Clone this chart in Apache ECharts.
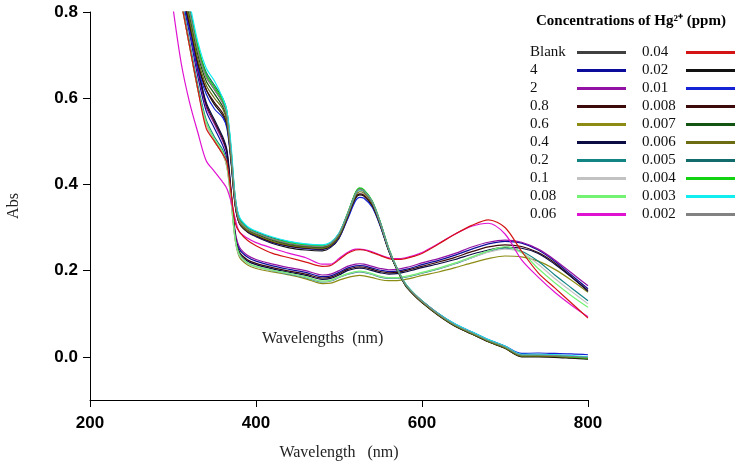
<!DOCTYPE html>
<html>
<head>
<meta charset="utf-8">
<script src="https://cdn.jsdelivr.net/npm/echarts@6/dist/echarts.min.js"></script>
<style>
  html, body { margin: 0; padding: 0; background: #fff; }
  #chart { width: 743px; height: 467px; }
</style>
</head>
<body>
<div id="chart"></div>
<script>
// wavelength grid (nm)
const wavelengths = [300,310,320,330,340,350,360,365,370,375,380,390,400,420,440,460,480,490,500,510,520,525,530,540,550,560,570,580,590,600,620,640,660,680,700,720,740,760,780,800];

const yTicks = [0, 0.2, 0.4, 0.6, 0.8];

const col1Names = ['Blank', '4', '2', '0.8', '0.6', '0.4', '0.2', '0.1', '0.08', '0.06'];
const col2Names = ['0.04', '0.02', '0.01', '0.008', '0.007', '0.006', '0.005', '0.004', '0.003', '0.002'];

const col1Colors = ['#404040', '#0b0b9c', '#9212a4', '#3c0a0a', '#8c8c14', '#0c0c44', '#128484', '#c2c2c2', '#74f274', '#e012d2'];
const col2Colors = ['#d41414', '#121212', '#1424d4', '#3c0a0a', '#125412', '#6c6c12', '#126c6c', '#12d212', '#12eef0', '#828282'];

// absorbance per concentration (ppm)
const absBlank = [0.94,0.87,0.79,0.71,0.65,0.62,0.59,0.56,0.47,0.36,0.315,0.295,0.286,0.272,0.262,0.257,0.255,0.262,0.284,0.33,0.38,0.39,0.386,0.36,0.31,0.25,0.204,0.168,0.146,0.128,0.098,0.073,0.055,0.037,0.022,0.003,0.003,0.002,0.0,-0.002];
const abs4 = [0.91,0.84,0.75,0.65,0.57,0.53,0.49,0.46,0.375,0.285,0.25,0.231,0.222,0.211,0.203,0.196,0.186,0.188,0.196,0.206,0.211,0.212,0.211,0.206,0.201,0.198,0.199,0.203,0.208,0.214,0.224,0.236,0.25,0.262,0.268,0.264,0.248,0.222,0.19,0.158];
const abs2 = [0.92,0.85,0.76,0.66,0.58,0.54,0.50,0.47,0.38,0.29,0.255,0.235,0.226,0.215,0.207,0.2,0.19,0.192,0.2,0.21,0.215,0.216,0.215,0.21,0.205,0.202,0.203,0.207,0.212,0.218,0.228,0.24,0.255,0.266,0.271,0.266,0.25,0.225,0.195,0.165];
const abs08 = [0.93,0.86,0.77,0.67,0.585,0.545,0.505,0.475,0.38,0.28,0.243,0.225,0.217,0.207,0.199,0.192,0.183,0.185,0.193,0.203,0.208,0.209,0.208,0.203,0.198,0.195,0.196,0.2,0.205,0.21,0.22,0.231,0.244,0.255,0.26,0.256,0.242,0.218,0.186,0.154];
const abs06 = [0.9,0.82,0.72,0.62,0.54,0.5,0.47,0.44,0.36,0.27,0.232,0.213,0.205,0.197,0.19,0.181,0.17,0.171,0.178,0.184,0.188,0.189,0.188,0.184,0.179,0.177,0.177,0.18,0.184,0.189,0.197,0.207,0.218,0.228,0.234,0.232,0.222,0.203,0.178,0.15];
const abs04 = [0.93,0.86,0.77,0.67,0.59,0.55,0.51,0.48,0.385,0.28,0.24,0.222,0.214,0.204,0.196,0.189,0.18,0.182,0.19,0.2,0.205,0.206,0.205,0.2,0.195,0.192,0.193,0.197,0.202,0.207,0.216,0.226,0.238,0.248,0.254,0.252,0.24,0.215,0.185,0.152];
const abs02 = [0.91,0.83,0.73,0.63,0.55,0.51,0.48,0.45,0.37,0.275,0.236,0.217,0.209,0.2,0.192,0.184,0.174,0.176,0.184,0.191,0.196,0.197,0.196,0.191,0.185,0.182,0.182,0.185,0.189,0.194,0.204,0.216,0.23,0.244,0.252,0.245,0.222,0.19,0.16,0.13];
const abs01 = [0.9,0.82,0.72,0.62,0.54,0.5,0.47,0.44,0.36,0.27,0.235,0.216,0.208,0.2,0.193,0.185,0.175,0.177,0.185,0.192,0.197,0.198,0.197,0.192,0.186,0.183,0.183,0.186,0.19,0.195,0.205,0.217,0.23,0.243,0.25,0.242,0.215,0.182,0.152,0.123];
const abs008 = [0.9,0.82,0.72,0.62,0.545,0.505,0.475,0.445,0.365,0.275,0.238,0.218,0.21,0.201,0.194,0.186,0.176,0.178,0.186,0.193,0.198,0.199,0.198,0.193,0.187,0.184,0.184,0.187,0.191,0.196,0.206,0.218,0.232,0.246,0.255,0.242,0.205,0.172,0.142,0.115];
const abs006 = [0.81,0.68,0.59,0.52,0.455,0.43,0.405,0.39,0.36,0.32,0.29,0.275,0.265,0.252,0.24,0.23,0.215,0.215,0.228,0.242,0.25,0.25,0.249,0.244,0.236,0.23,0.228,0.23,0.235,0.242,0.263,0.285,0.303,0.31,0.285,0.225,0.185,0.15,0.12,0.093];
const abs004 = [0.9,0.82,0.72,0.62,0.53,0.5,0.47,0.45,0.38,0.31,0.29,0.27,0.258,0.24,0.23,0.22,0.21,0.212,0.225,0.24,0.248,0.249,0.248,0.242,0.235,0.228,0.226,0.228,0.233,0.24,0.262,0.285,0.305,0.318,0.30,0.245,0.195,0.16,0.125,0.09];
const abs002 = [0.92,0.85,0.77,0.68,0.62,0.585,0.56,0.535,0.455,0.352,0.31,0.289,0.279,0.263,0.253,0.248,0.246,0.254,0.275,0.32,0.368,0.376,0.373,0.35,0.303,0.246,0.202,0.166,0.144,0.126,0.096,0.071,0.053,0.035,0.02,0.0,0.0,-0.001,-0.003,-0.005];
const abs001 = [0.91,0.84,0.76,0.67,0.61,0.575,0.555,0.53,0.45,0.35,0.31,0.29,0.28,0.265,0.256,0.251,0.249,0.256,0.276,0.318,0.362,0.37,0.368,0.347,0.302,0.245,0.203,0.168,0.147,0.13,0.1,0.076,0.058,0.04,0.025,0.008,0.009,0.008,0.007,0.005];
const abs0008 = [0.92,0.85,0.77,0.68,0.62,0.59,0.565,0.54,0.455,0.35,0.31,0.29,0.281,0.266,0.257,0.252,0.25,0.257,0.278,0.322,0.37,0.378,0.375,0.352,0.304,0.246,0.202,0.166,0.144,0.126,0.096,0.071,0.053,0.035,0.02,0.001,0.001,0.0,-0.002,-0.004];
const abs0007 = [0.94,0.87,0.79,0.70,0.64,0.61,0.58,0.55,0.46,0.36,0.315,0.295,0.285,0.27,0.26,0.255,0.253,0.26,0.282,0.328,0.378,0.388,0.384,0.358,0.308,0.248,0.203,0.167,0.145,0.127,0.097,0.072,0.054,0.036,0.021,0.002,0.002,0.001,-0.001,-0.003];
const abs0006 = [0.93,0.86,0.78,0.69,0.63,0.60,0.575,0.545,0.46,0.355,0.312,0.292,0.283,0.268,0.259,0.254,0.252,0.259,0.28,0.325,0.374,0.383,0.38,0.356,0.306,0.247,0.203,0.167,0.145,0.127,0.097,0.072,0.054,0.036,0.021,0.002,0.002,0.001,-0.001,-0.003];
const abs0005 = [0.96,0.89,0.81,0.72,0.66,0.63,0.60,0.57,0.48,0.37,0.322,0.3,0.29,0.276,0.267,0.261,0.259,0.265,0.286,0.33,0.38,0.39,0.386,0.36,0.31,0.25,0.205,0.168,0.147,0.13,0.1,0.075,0.057,0.039,0.024,0.005,0.005,0.004,0.002,-0.001];
const abs0004 = [0.95,0.88,0.80,0.72,0.655,0.625,0.595,0.565,0.48,0.365,0.318,0.297,0.288,0.274,0.265,0.26,0.258,0.264,0.286,0.332,0.382,0.392,0.388,0.362,0.312,0.252,0.206,0.17,0.148,0.13,0.099,0.074,0.056,0.038,0.023,0.004,0.004,0.003,0.0,-0.003];
const abs0003 = [0.97,0.9,0.82,0.73,0.67,0.64,0.60,0.57,0.49,0.37,0.325,0.302,0.292,0.278,0.268,0.262,0.26,0.266,0.287,0.33,0.378,0.388,0.385,0.36,0.31,0.25,0.205,0.17,0.148,0.13,0.1,0.076,0.058,0.04,0.025,0.006,0.006,0.005,0.003,0.0];
const abs0002 = [0.95,0.88,0.80,0.71,0.65,0.62,0.588,0.558,0.47,0.362,0.316,0.296,0.287,0.273,0.263,0.258,0.256,0.263,0.285,0.33,0.379,0.389,0.385,0.36,0.31,0.25,0.205,0.169,0.147,0.129,0.099,0.074,0.056,0.038,0.023,0.004,0.004,0.003,0.001,-0.001];

const col1Data = [absBlank, abs4, abs2, abs08, abs06, abs04, abs02, abs01, abs008, abs006];
const col2Data = [abs004, abs002, abs001, abs0008, abs0007, abs0006, abs0005, abs0004, abs0003, abs0002];

const chart = echarts.init(document.getElementById('chart'));

function makeSeries(names, colors, data) {
  return names.map((name, i) => ({
    name: name,
    type: 'line',
    smooth: 0.3,
    symbol: 'none',
    color: colors[i],
    lineStyle: { width: 1.2 },
    data: wavelengths.map((w, j) => [w, data[i][j]])
  }));
}

const series = makeSeries(col1Names, col1Colors, col1Data)
  .concat(makeSeries(col2Names, col2Colors, col2Data));

// text sits left of the swatch, left-aligned in a fixed-width box
function legendCol(left, names, textWidth) {
  return {
    orient: 'vertical',
    align: 'right',
    left: left,
    top: 45,
    icon: 'rect',
    itemWidth: 49,
    itemHeight: 3,
    itemGap: 3,
    padding: 0,
    selectedMode: false,
    data: names,
    formatter: '{t|{name}}',
    textStyle: {
      rich: {
        t: { fontFamily: 'Liberation Serif', fontSize: 15, color: '#111', lineHeight: 15, width: textWidth, align: 'left' }
      }
    }
  };
}

chart.setOption({
  animation: false,
  backgroundColor: '#fff',
  title: {
    text: 'Concentrations of Hg²⁺ (ppm)',
    left: 536,
    top: 14,
    padding: 0,
    textStyle: { fontFamily: 'Liberation Serif', fontSize: 15, fontWeight: 'bold', color: '#000' }
  },
  legend: [legendCol(530, col1Names, 42), legendCol(642, col2Names, 39)],
  grid: { left: 90, right: 155, top: 12, bottom: 67, outerBoundsMode: 'none' },
  xAxis: {
    type: 'value',
    min: 200,
    max: 800,
    interval: 200,
    name: 'Wavelength   (nm)',
    nameLocation: 'middle',
    nameGap: 45,
    nameTextStyle: { fontFamily: 'Liberation Serif', fontSize: 16, color: '#222' },
    axisLine: { onZero: false, lineStyle: { color: '#000', width: 1 } },
    axisTick: { length: 7, lineStyle: { color: '#000' } },
    axisLabel: { fontFamily: 'Liberation Sans', fontWeight: 'bold', fontSize: 17, color: '#000', margin: 15 },
    splitLine: { show: false }
  },
  yAxis: {
    type: 'value',
    min: -0.1,
    max: 0.8,
    name: 'Abs',
    nameLocation: 'middle',
    nameGap: 68,
    nameTextStyle: { fontFamily: 'Liberation Serif', fontSize: 16, color: '#222' },
    axisLine: { show: true, onZero: false, lineStyle: { color: '#000', width: 1 } },
    axisTick: { show: true, length: 7, customValues: yTicks, lineStyle: { color: '#000' } },
    axisLabel: {
      customValues: yTicks,
      formatter: v => v.toFixed(1),
      fontFamily: 'Liberation Sans', fontWeight: 'bold', fontSize: 17, color: '#000', margin: 12
    },
    splitLine: { show: false }
  },
  graphic: [{
    type: 'text',
    left: 262,
    top: 331,
    style: { text: 'Wavelengths  (nm)', fontFamily: 'Liberation Serif', fontSize: 16, fill: '#222' }
  }],
  series: series
});
</script>
</body>
</html>
